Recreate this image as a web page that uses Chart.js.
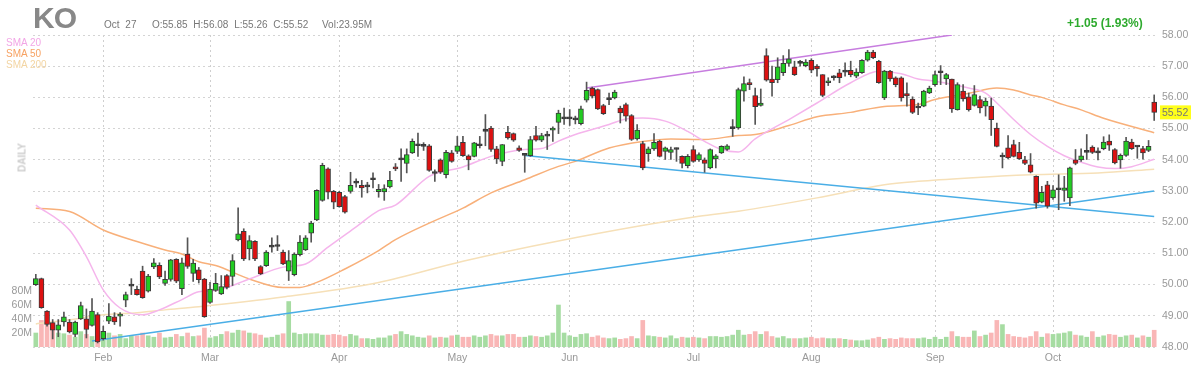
<!DOCTYPE html>
<html>
<head>
<meta charset="utf-8">
<script src="https://cdn.jsdelivr.net/npm/chart.js@4.4.0/dist/chart.umd.min.js"></script>
<style>
  body { margin: 0; background: #fff; }
  #wrap { position: relative; width: 1200px; height: 375px; font-family: "Liberation Sans", Arial, sans-serif; }
  #chart { position: absolute; left: 0; top: 0; }
  .t { position: absolute; white-space: nowrap; }
  #sym { left: 33px; top: 1px; font-size: 30px; font-weight: bold; color: #888; letter-spacing: -1px; }
  .hd { top: 19px; font-size: 10px; color: #777; word-spacing: 3px; }
  #chg { left: 1067px; top: 16px; font-size: 12px; font-weight: bold; color: #2eaa2e; }
  .sma { left: 6px; font-size: 10px; }
  #daily { left: 2px; top: 152px; font-size: 10px; font-weight: bold; color: #ccc; transform: rotate(-90deg); transform-origin: center; width: 40px; text-align: center; }
</style>
</head>
<body>
<div id="wrap">
  <canvas id="chart" width="1200" height="375"></canvas>
  <div class="t" id="sym">KO</div>
  <div class="t hd" style="left:104px">Oct 27</div>
  <div class="t hd" style="left:152px">O:55.85 H:56.08 L:55.26 C:55.52</div>
  <div class="t hd" style="left:322px">Vol:23.95M</div>
  <div class="t" id="chg">+1.05 (1.93%)</div>
  <div class="t sma" style="top:37px;color:#f2a6e6">SMA 20</div>
  <div class="t sma" style="top:48px;color:#f7a263">SMA 50</div>
  <div class="t sma" style="top:59px;color:#f3d5a3">SMA 200</div>
  <div class="t" id="daily">DAILY</div>
</div>
<script>
const { Chart } = window;

// trading days shown (2021), per month
const monthNames = ['Jan', 'Feb', 'Mar', 'Apr', 'May', 'Jun', 'Jul', 'Aug', 'Sep', 'Oct'];
const monthDays = [
  [13, 14, 15, 19, 20, 21, 22, 25, 26, 27, 28, 29],
  [1, 2, 3, 4, 5, 8, 9, 10, 11, 12, 16, 17, 18, 19, 22, 23, 24, 25, 26],
  [1, 2, 3, 4, 5, 8, 9, 10, 11, 12, 15, 16, 17, 18, 19, 22, 23, 24, 25, 26, 29, 30, 31],
  [1, 5, 6, 7, 8, 9, 12, 13, 14, 15, 16, 19, 20, 21, 22, 23, 26, 27, 28, 29, 30],
  [3, 4, 5, 6, 7, 10, 11, 12, 13, 14, 17, 18, 19, 20, 21, 24, 25, 26, 27, 28],
  [1, 2, 3, 4, 7, 8, 9, 10, 11, 14, 15, 16, 17, 18, 21, 22, 23, 24, 25, 28, 29, 30],
  [1, 2, 6, 7, 8, 9, 12, 13, 14, 15, 16, 19, 20, 21, 22, 23, 26, 27, 28, 29, 30],
  [2, 3, 4, 5, 6, 9, 10, 11, 12, 13, 16, 17, 18, 19, 20, 23, 24, 25, 26, 27, 30, 31],
  [1, 2, 3, 7, 8, 9, 10, 13, 14, 15, 16, 17, 20, 21, 22, 23, 24, 27, 28, 29, 30],
  [1, 4, 5, 6, 7, 8, 11, 12, 13, 14, 15, 18, 19, 20, 21, 22, 25, 26, 27],
];

const opens = [
  50.00, 50.19, 49.15, 48.78, 48.54, 48.80, 48.80, 48.40, 48.90, 48.90,
  48.69, 49.04, 48.27, 48.83, 48.97, 48.99, 49.50, 49.95, 49.85, 50.43,
  49.79, 50.57, 50.62, 50.04, 50.17, 50.81, 49.87, 50.98, 50.36, 50.47,
  50.18, 49.43, 49.81, 49.70, 50.29, 50.26, 51.43, 51.71, 51.14, 51.39,
  50.58, 50.61, 51.20, 51.22, 51.04, 50.43, 50.32, 50.96, 51.11, 51.65,
  52.07, 52.70, 53.71, 52.99, 52.96, 52.82, 52.99, 53.25, 53.18, 53.13,
  53.36, 52.98, 52.97, 53.13, 53.77, 54.00, 53.88, 54.22, 54.45, 54.43,
  54.45, 53.56, 54.00, 53.52, 54.22, 54.27, 54.56, 54.13, 54.11, 54.45,
  54.91, 55.02, 54.35, 53.95, 54.88, 54.84, 54.38, 54.14, 54.13, 54.78,
  54.63, 54.76, 54.95, 55.20, 55.31, 55.31, 55.28, 55.16, 55.91, 56.30,
  56.25, 55.74, 55.93, 55.98, 55.66, 55.77, 55.42, 54.67, 54.52, 54.20,
  54.35, 54.60, 54.27, 54.24, 54.33, 54.11, 53.81, 54.33, 54.00, 54.00,
  53.74, 54.03, 54.22, 54.33, 55.00, 55.02, 56.20, 56.47, 56.06, 55.74,
  57.34, 56.59, 56.57, 56.79, 57.09, 56.98, 57.09, 57.02, 57.19, 57.00,
  56.73, 56.47, 56.63, 56.79, 56.81, 56.87, 56.68, 56.79, 57.19, 57.45,
  57.16, 55.98, 56.84, 56.63, 56.63, 56.12, 55.95, 55.66, 55.72, 56.14,
  56.41, 56.79, 56.59, 56.59, 55.61, 56.20, 56.02, 55.74, 55.93, 55.72,
  55.72, 55.02, 54.09, 54.38, 54.49, 54.24, 54.00, 53.84, 53.47, 52.64,
  53.20, 52.78, 53.04, 53.02, 52.78, 54.00, 54.00, 54.24, 54.41, 54.22,
  54.36, 54.60, 54.33, 54.00, 54.14, 54.57, 54.41, 54.36, 54.30, 55.85,
];
const highs = [
  50.33, 50.21, 49.17, 48.88, 48.88, 49.12, 48.88, 48.83, 49.44, 49.22,
  49.55, 49.10, 48.67, 49.39, 49.10, 49.10, 49.76, 50.19, 49.95, 50.59,
  50.33, 50.83, 50.70, 50.43, 50.81, 50.83, 50.85, 51.50, 50.81, 50.55,
  50.20, 50.07, 50.36, 50.29, 50.32, 50.96, 52.46, 51.79, 51.57, 51.41,
  50.61, 51.09, 51.50, 51.57, 51.11, 51.09, 51.02, 51.57, 51.57, 52.03,
  53.04, 53.89, 53.74, 53.02, 52.99, 52.86, 53.60, 53.39, 53.34, 53.28,
  53.58, 53.21, 53.20, 53.63, 53.88, 54.35, 54.35, 54.67, 54.86, 54.55,
  54.49, 53.68, 54.03, 54.30, 54.30, 54.75, 54.75, 54.16, 54.56, 54.75,
  55.45, 55.07, 54.43, 54.49, 55.07, 54.86, 54.45, 54.17, 54.75, 55.07,
  54.85, 54.91, 55.06, 55.59, 55.66, 55.61, 55.40, 55.72, 56.49, 56.33,
  56.27, 55.78, 56.14, 56.23, 55.72, 55.82, 55.45, 55.13, 54.59, 54.41,
  54.84, 54.63, 54.41, 54.41, 54.38, 54.13, 54.17, 54.45, 54.22, 54.06,
  54.35, 54.17, 54.45, 54.49, 55.29, 56.30, 56.66, 56.59, 56.30, 56.27,
  57.56, 57.00, 57.27, 57.34, 57.53, 57.16, 57.19, 57.21, 57.24, 57.05,
  56.73, 56.63, 56.70, 56.90, 57.11, 57.16, 56.92, 57.21, 57.51, 57.51,
  57.19, 56.87, 56.87, 56.66, 56.66, 56.47, 56.02, 55.82, 56.23, 56.36,
  56.84, 57.02, 56.77, 56.59, 56.47, 56.41, 56.14, 56.38, 56.04, 55.98,
  55.98, 55.18, 54.22, 54.78, 54.63, 54.56, 54.11, 54.20, 53.49, 53.15,
  53.31, 53.17, 53.52, 53.47, 53.77, 54.33, 54.35, 54.81, 54.45, 54.38,
  54.74, 54.80, 54.36, 54.19, 54.72, 54.66, 54.45, 54.43, 54.62, 56.08,
];
const lows = [
  49.97, 49.24, 48.67, 48.26, 48.33, 48.67, 48.45, 48.33, 48.88, 48.29,
  48.67, 48.13, 48.22, 48.75, 48.72, 48.67, 49.29, 49.68, 49.66, 49.56,
  49.76, 50.51, 50.19, 49.97, 50.11, 50.06, 49.68, 50.52, 50.10, 50.05,
  48.95, 49.40, 49.78, 49.68, 49.86, 49.97, 51.40, 50.77, 50.79, 50.77,
  50.32, 50.58, 51.04, 51.09, 50.64, 50.13, 50.28, 50.92, 51.09, 51.36,
  52.05, 52.67, 52.75, 52.43, 52.48, 52.29, 52.93, 53.12, 52.80, 52.94,
  53.10, 52.80, 52.70, 53.10, 53.65, 53.31, 53.58, 54.20, 54.11, 54.30,
  53.63, 53.31, 53.56, 53.42, 53.92, 54.20, 54.11, 53.68, 54.09, 54.38,
  54.45, 54.27, 53.88, 53.81, 54.66, 54.59, 54.27, 53.60, 54.11, 54.60,
  54.58, 54.33, 54.59, 54.84, 55.13, 55.10, 55.15, 55.12, 55.85, 55.98,
  55.61, 55.45, 55.77, 55.95, 55.18, 55.24, 54.62, 54.63, 53.68, 53.95,
  54.30, 54.09, 54.01, 54.01, 53.95, 53.74, 53.74, 53.92, 53.95, 53.60,
  53.71, 53.74, 54.20, 54.30, 54.75, 54.98, 55.88, 56.25, 55.13, 55.72,
  56.52, 56.04, 56.47, 56.70, 57.00, 56.70, 57.00, 56.98, 56.79, 56.68,
  56.02, 56.38, 56.55, 56.47, 56.68, 56.66, 56.63, 56.77, 57.16, 57.24,
  56.45, 55.93, 56.52, 56.34, 55.88, 55.72, 55.48, 55.45, 55.70, 56.12,
  56.36, 56.41, 56.41, 55.52, 55.59, 55.88, 55.56, 55.72, 55.50, 55.40,
  54.78, 54.41, 53.74, 54.03, 54.09, 54.01, 53.84, 53.58, 52.45, 52.62,
  52.45, 52.73, 52.40, 52.67, 52.53, 53.84, 53.95, 54.01, 54.20, 54.00,
  54.32, 54.30, 53.87, 53.73, 54.11, 54.33, 54.05, 54.02, 54.26, 55.26,
];
const closes = [
  50.19, 49.26, 48.72, 48.54, 48.71, 48.97, 48.48, 48.80, 49.33, 48.56,
  49.15, 48.16, 48.50, 48.99, 48.80, 49.04, 49.68, 49.95, 49.68, 49.58,
  50.27, 50.70, 50.25, 50.17, 50.79, 50.11, 50.70, 50.58, 50.69, 50.16,
  48.97, 49.86, 50.04, 49.94, 49.91, 50.77, 51.63, 50.82, 51.41, 50.82,
  50.34, 51.04, 51.20, 51.22, 50.66, 50.77, 50.98, 51.36, 51.50, 51.97,
  53.02, 53.82, 52.96, 52.64, 52.50, 52.32, 53.18, 53.25, 53.10, 53.13,
  53.36, 53.05, 53.08, 53.34, 53.71, 54.00, 54.17, 54.59, 54.45, 54.43,
  53.66, 53.56, 53.60, 54.24, 53.95, 54.45, 54.13, 54.00, 54.54, 54.45,
  54.91, 54.33, 54.03, 54.49, 54.70, 54.63, 54.30, 54.14, 54.65, 54.63,
  54.78, 54.76, 55.02, 55.50, 55.31, 55.31, 55.28, 55.63, 56.23, 56.04,
  55.63, 55.48, 55.93, 56.17, 55.50, 55.40, 54.65, 54.95, 53.74, 54.35,
  54.56, 54.11, 54.38, 54.33, 54.33, 53.88, 54.11, 53.95, 54.17, 53.88,
  54.33, 54.13, 54.43, 54.45, 55.00, 56.25, 56.44, 56.41, 55.70, 55.82,
  56.55, 56.47, 56.98, 57.09, 57.24, 56.73, 57.09, 57.13, 56.87, 56.91,
  56.06, 56.52, 56.63, 56.63, 56.81, 56.73, 56.81, 57.19, 57.45, 57.27,
  56.47, 56.84, 56.59, 56.41, 55.98, 56.05, 55.52, 55.66, 56.20, 56.30,
  56.73, 56.79, 56.73, 55.63, 56.41, 55.95, 55.61, 56.09, 55.66, 55.88,
  55.29, 54.43, 54.09, 54.06, 54.11, 54.03, 53.88, 53.60, 52.61, 52.96,
  52.51, 53.04, 53.04, 53.10, 53.74, 53.88, 54.13, 54.24, 54.24, 54.22,
  54.57, 54.47, 53.90, 54.14, 54.60, 54.36, 54.41, 54.22, 54.43, 55.52,
];
// volume, millions
const volumes = [
  20, 38, 33, 24, 20, 19, 17, 14, 22, 18,
  15, 22, 13, 20, 16, 18, 12, 16, 16, 20,
  16, 14, 20, 13, 14, 18, 15, 20, 15, 16,
  27, 13, 15, 18, 22, 20, 24, 23, 20, 19,
  17, 13, 14, 17, 19, 65, 20, 18, 19, 19,
  19, 17, 17, 18, 17, 15, 18, 16, 12, 12,
  11, 13, 13, 16, 18, 22, 18, 16, 14, 13,
  16, 13, 14, 13, 16, 17, 14, 14, 16, 14,
  16, 18, 16, 16, 18, 18, 14, 14, 16, 15,
  14, 16, 20, 60, 20, 16, 14, 18, 19, 14,
  16, 13, 12, 13, 11, 12, 15, 12, 38, 16,
  15, 14, 13, 16, 12, 14, 13, 14, 13, 12,
  15, 15, 14, 15, 17, 24, 17, 18, 22, 18,
  22, 15, 13, 15, 12, 12, 12, 13, 14, 12,
  13, 12, 12, 12, 11, 10, 9, 9, 10, 12,
  14, 11, 12, 11, 13, 12, 12, 12, 13, 11,
  14, 11, 14, 22, 15, 14, 14, 23, 15, 17,
  20, 38, 32, 18, 15, 14, 13, 15, 22, 14,
  19, 18, 19, 20, 22, 17, 16, 14, 22, 14,
  16, 18, 17, 14, 16, 17, 13, 16, 14, 23.95,
];

// moving averages: [day index, value]
const sma20 = [
  [0, 52.55], [6, 51.75], [9, 50.9], [12, 49.83], [15, 49.25], [19, 49.03], [22, 49.19],
  [26, 49.52], [29, 49.77], [32, 49.81], [38, 50.18], [44, 50.56], [48, 50.66], [52, 51.2],
  [57, 51.85], [61, 52.37], [64, 52.55], [70, 53.47], [76, 53.77], [81, 54.11], [87, 54.33],
  [90, 54.36], [93, 54.6], [96, 54.81], [102, 55.13], [105, 55.31], [108, 55.34], [112, 55.24],
  [116, 54.91], [119, 54.59], [122, 54.33], [125, 54.25], [128, 54.67], [134, 55.29],
  [139, 55.82], [145, 56.47], [150, 56.84], [154, 56.76], [157, 56.59], [160, 56.52],
  [166, 56.3], [169, 56.14], [171, 55.82], [174, 55.29], [177, 54.81], [180, 54.43],
  [183, 54.13], [186, 53.92], [189, 53.77], [192, 53.72], [195, 53.78], [199, 54.02],
];
const sma50 = [
  [0, 52.45], [6, 52.34], [12, 51.75], [18, 51.38], [23, 51.11], [26, 50.98], [29, 50.73],
  [32, 50.61], [38, 50.18], [44, 49.91], [47, 49.91], [50, 50.07], [55, 50.5], [61, 51.09],
  [64, 51.44], [70, 51.97], [76, 52.45], [81, 52.94], [87, 53.36], [93, 53.79], [96, 53.95],
  [102, 54.38], [108, 54.59], [113, 54.67], [119, 54.65], [125, 54.78], [128, 54.81],
  [134, 55.1], [139, 55.38], [145, 55.52], [151, 55.71], [157, 55.77], [160, 55.93],
  [166, 56.13], [171, 56.3], [174, 56.24], [177, 56.08], [179, 56.0], [183, 55.76],
  [186, 55.6], [190, 55.33], [199, 54.87],
];
const sma200 = [
  [0, 48.74], [6, 48.87], [12, 49.03], [18, 49.1], [23, 49.19], [29, 49.29], [44, 49.6],
  [61, 50.07], [76, 50.75], [93, 51.4], [118, 52.19], [125, 52.35], [139, 52.78],
  [151, 53.2], [157, 53.31], [166, 53.42], [177, 53.52], [189, 53.58], [199, 53.7],
];
// drawn trend lines: [day index, price]
const channelTop = [[98, 56.3], [163, 58.0]];
const channelLow = [[87, 54.14], [199, 52.18]];
const supportLine = [[10, 48.19], [199, 53.0]];

const priceTicks = [48, 49, 50, 51, 52, 53, 54, 55, 56, 57, 58];
const volumeTicks = [20, 40, 60, 80];
const lastPrice = 55.52;

const labels = [];
const monthStart = {};
monthDays.forEach((days, m) => {
  days.forEach((d, k) => {
    if (k === 0 && m > 0) monthStart[labels.length] = monthNames[m];
    labels.push(`2021-${String(m + 1).padStart(2, '0')}-${String(d).padStart(2, '0')}`);
  });
});

const UP = '#22cc22';
const DOWN = '#dd1111';
const dirColor = (i) => (closes[i] > opens[i] ? UP : closes[i] < opens[i] ? DOWN : '#333');
const toPoints = (arr) => arr.map(([i, v]) => ({ x: labels[i], y: v }));
const axisFont = { size: 10.5, family: '"Liberation Sans", Arial' };

const lineSet = (data, color, width, order) => ({
  type: 'line',
  data: toPoints(data),
  yAxisID: 'y',
  borderColor: color,
  borderWidth: width,
  pointRadius: 0,
  cubicInterpolationMode: 'monotone',
  order,
});

const priceTag = {
  id: 'priceTag',
  afterDraw(chart) {
    const { ctx } = chart;
    const y = chart.scales.y.getPixelForValue(lastPrice);
    const x = chart.chartArea.right + 3;
    ctx.save();
    ctx.fillStyle = '#ffff1a';
    ctx.fillRect(x, y - 7, 31, 14);
    ctx.fillStyle = '#777';
    ctx.font = '10.5px "Liberation Sans", Arial';
    ctx.textBaseline = 'middle';
    ctx.fillText(lastPrice.toFixed(2), x + 2, y + 1);
    ctx.restore();
  },
};

const ctx = document.getElementById('chart').getContext('2d');
new Chart(ctx, {
  type: 'bar',
  data: {
    labels,
    datasets: [
      {
        data: opens.map((o, i) => [o, closes[i]]),
        yAxisID: 'y',
        backgroundColor: opens.map((o, i) => dirColor(i)),
        borderColor: '#3a3a3a',
        borderWidth: 1,
        borderSkipped: false,
        barThickness: 5,
        minBarLength: 2,
        grouped: false,
        order: 0,
      },
      {
        data: lows.map((l, i) => [l, highs[i]]),
        yAxisID: 'y',
        backgroundColor: '#555',
        barThickness: 1,
        grouped: false,
        order: 1,
      },
      lineSet(channelTop, '#c77ddf', 1.5, 2),
      lineSet(channelLow, '#4aaee6', 1.5, 2),
      lineSet(supportLine, '#4aaee6', 1.5, 2),
      lineSet(sma20, '#f5b5ec', 1.5, 3),
      lineSet(sma50, '#f8b07a', 1.5, 3),
      lineSet(sma200, '#f6e0b8', 1.5, 3),
      {
        data: volumes,
        yAxisID: 'v',
        backgroundColor: volumes.map((v, i) => (closes[i] >= opens[i] ? '#a6dca2' : '#f9b6b6')),
        barThickness: 4,
        grouped: false,
        order: 4,
      },
    ],
  },
  options: {
    responsive: false,
    animation: false,
    layout: { padding: { top: 35, left: 0, right: 0, bottom: 0 } },
    plugins: { legend: { display: false }, tooltip: { enabled: false } },
    scales: {
      x: {
        offset: true,
        grid: {
          offset: false,
          drawTicks: false,
          color: (c) => (monthStart[c.index] ? '#cfcfcf' : 'rgba(0,0,0,0)'),
        },
        border: { display: false, dash: [2, 3] },
        ticks: {
          autoSkip: false,
          maxRotation: 0,
          padding: 5,
          color: '#999',
          font: axisFont,
          callback: (val, idx) => monthStart[idx] || '',
        },
        afterFit: (s) => { s.height = 28; },
      },
      y: {
        position: 'right',
        min: 48,
        max: 58,
        afterBuildTicks: (s) => { s.ticks = priceTicks.map((v) => ({ value: v })); },
        grid: { color: '#d4d4d4', drawTicks: false },
        border: { display: false, dash: [2, 3] },
        ticks: {
          padding: 5,
          color: '#999',
          font: axisFont,
          callback: (v) => Number(v).toFixed(2),
        },
        afterFit: (s) => { s.width = 43; },
      },
      v: {
        position: 'left',
        min: 0,
        max: 446,
        afterBuildTicks: (s) => { s.ticks = volumeTicks.map((v) => ({ value: v })); },
        grid: { display: false, drawTicks: false },
        border: { display: false },
        ticks: {
          padding: 1,
          color: '#999',
          font: axisFont,
          callback: (v) => `${v}M`,
        },
        afterFit: (s) => { s.width = 33; },
      },
    },
  },
  plugins: [priceTag],
});
</script>
</body>
</html>
